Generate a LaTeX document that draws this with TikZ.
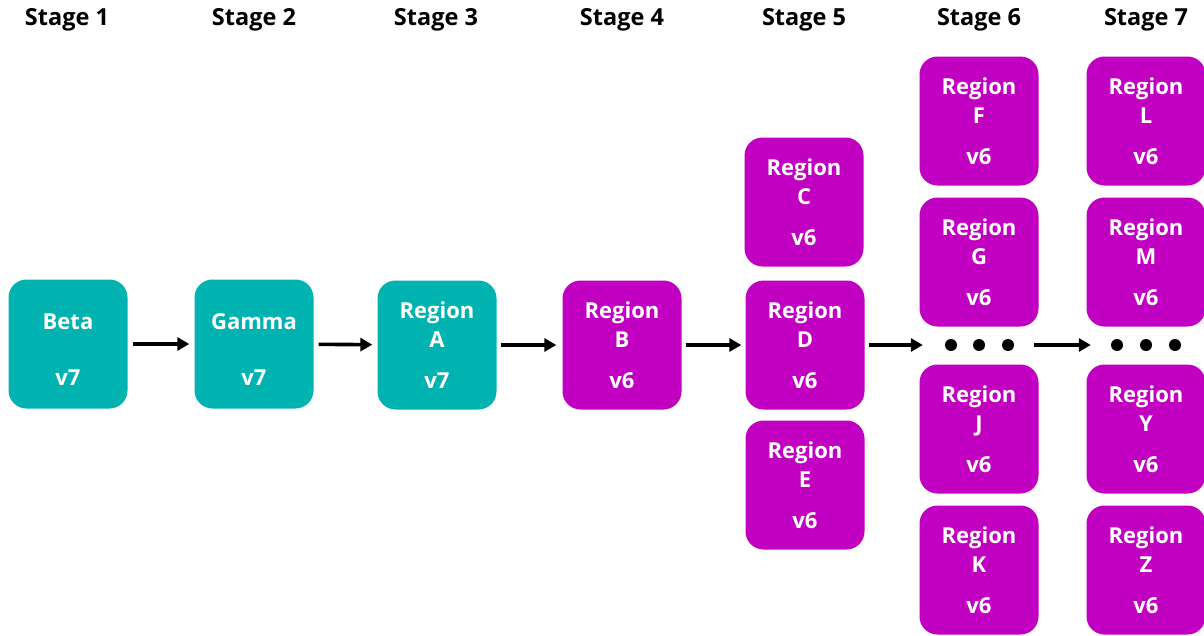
\documentclass[tikz,border=0pt]{standalone}
\usepackage{fontspec}
\setmainfont{Open Sans}
\usetikzlibrary{arrows.meta}
\definecolor{tealbox}{RGB}{0,179,176}
\definecolor{magbox}{RGB}{193,0,193}
\tikzset{
  box/.style={rounded corners=18pt, minimum width=119pt, minimum height=129pt,
    inner sep=0pt, align=center, text=white,
    font=\fontsize{22}{29}\selectfont\bfseries},
  newbox/.style={box, fill=tealbox},
  oldbox/.style={box, fill=magbox},
  stagehead/.style={font=\fontsize{23.5}{26}\selectfont\bfseries, text=black},
  dot/.style={circle, fill=black, minimum size=12pt, inner sep=0pt},
  arr/.style={line width=3.6pt, -{Triangle[length=12pt,width=13pt]}}
}
\begin{document}
\begin{tikzpicture}[x=1pt, y=-1pt]
\useasboundingbox (0,0) rectangle (1204,635);

% stage headings
\foreach \x/\n in {67/1, 254/2, 436/3, 622/4, 804/5, 979/6, 1146/7}
  \node[stagehead] (s\n) at (\x,20) {Stage \n};

% stages 1-4
\node[newbox] (beta)  at (68,344)  {\rule{0pt}{26pt}Beta\\[27pt]v7};
\node[newbox] (gamma) at (254,344) {\rule{0pt}{26pt}Gamma\\[27pt]v7};
\node[newbox] (rA)    at (437,345) {Region\\A\\[12pt]v7};
\node[oldbox] (rB)    at (622,345) {Region\\B\\[12pt]v6};

% stage 5
\node[oldbox] (rC) at (804,202) {Region\\C\\[12pt]v6};
\node[oldbox] (rD) at (805,345) {Region\\D\\[12pt]v6};
\node[oldbox] (rE) at (805,485) {Region\\E\\[12pt]v6};

% stage 6
\node[oldbox] (rF) at (979,121) {Region\\F\\[12pt]v6};
\node[oldbox] (rG) at (979,262) {Region\\G\\[12pt]v6};
\node[dot] (d6a) at (951,345) {};
\node[dot] (d6b) at (979,345) {};
\node[dot] (d6c) at (1008,345) {};
\node[oldbox] (rJ) at (979,429) {Region\\J\\[12pt]v6};
\node[oldbox] (rK) at (979,570) {Region\\K\\[12pt]v6};

% stage 7
\node[oldbox] (rL) at (1146,121) {Region\\L\\[12pt]v6};
\node[oldbox] (rM) at (1146,262) {Region\\M\\[12pt]v6};
\node[dot] (d7a) at (1117,345) {};
\node[dot] (d7b) at (1146,345) {};
\node[dot] (d7c) at (1175,345) {};
\node[oldbox] (rY) at (1146,429) {Region\\Y\\[12pt]v6};
\node[oldbox] (rZ) at (1146,570) {Region\\Z\\[12pt]v6};

% rollout flow
\draw[arr, shorten <=5pt, shorten >=5pt] (beta) -- (gamma);
\draw[arr, shorten <=5pt, shorten >=5pt] (gamma) -- (rA);
\draw[arr, shorten <=4pt, shorten >=6pt] (rA) -- (rB);
\draw[arr, shorten <=4pt, shorten >=4pt] (rB.east |- rD) -- (rD);
\draw[arr, shorten <=4pt, shorten >=22pt] (rD) -- (d6a);
\draw[arr, shorten <=20pt, shorten >=20pt] (d6c) -- (d7a);
\end{tikzpicture}
\end{document}
